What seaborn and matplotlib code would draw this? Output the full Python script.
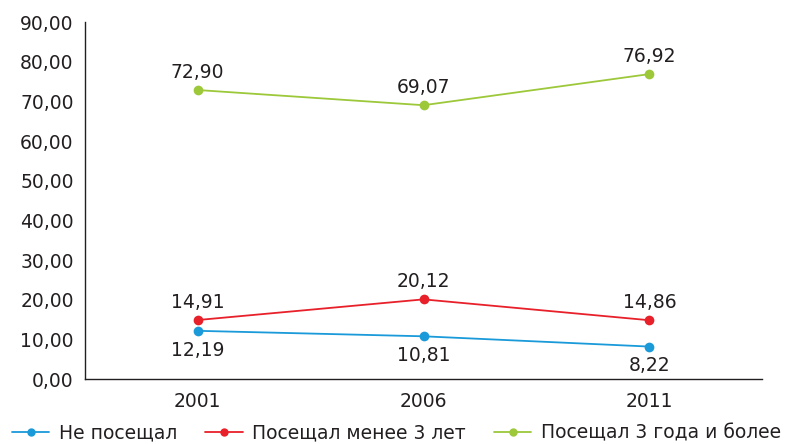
import pandas as pd
import matplotlib.pyplot as plt
import matplotlib.ticker as mticker
import seaborn as sns

# data
years = ['2001', '2006', '2011']
series_names = ['Не посещал', 'Посещал менее 3 лет', 'Посещал 3 года и более']
ne_poseshchal = [12.19, 10.81, 8.22]
menee_3 = [14.91, 20.12, 14.86]
bolee_3 = [72.90, 69.07, 76.92]
colors = ['#1a9ad9', '#e8202a', '#9cc83a']

rows = []
for name, vals in zip(series_names, [ne_poseshchal, menee_3, bolee_3]):
    for i, v in enumerate(vals):
        rows.append({'pos': i, 'year': years[i], 'value': v, 'series': name})
df = pd.DataFrame(rows)

sns.set_style('white')
plt.rcParams['font.family'] = ['DejaVu Sans']
FS = 13.5
TXT = '#231f20'

fig = plt.figure(figsize=(7.85, 4.44), dpi=100)
ax = fig.add_axes([0.108, 0.146, 0.863, 0.804])

sns.lineplot(data=df, x='pos', y='value', hue='series', hue_order=series_names,
             palette=colors, marker='o', markersize=7, markeredgewidth=0,
             linewidth=1.3, ax=ax, legend=False)

# value labels: blue below, others above
for name, vals in zip(series_names, [ne_poseshchal, menee_3, bolee_3]):
    for i, v in enumerate(vals):
        txt = f'{v:.2f}'.replace('.', ',')
        if name == 'Не посещал':
            ax.annotate(txt, (i, v), xytext=(0, -7), textcoords='offset points',
                        ha='center', va='top', fontsize=FS, color=TXT)
        else:
            ax.annotate(txt, (i, v), xytext=(0, 6), textcoords='offset points',
                        ha='center', va='bottom', fontsize=FS, color=TXT)

ax.set_xlim(-0.5, 2.5)
ax.set_ylim(0, 90)
ax.set_yticks(range(0, 91, 10))
ax.yaxis.set_major_formatter(mticker.FuncFormatter(lambda v, p: f'{v:.2f}'.replace('.', ',')))

# category boundaries as ticks, labels in the middle
ax.set_xticks([-0.5, 0.5, 1.5, 2.5])
ax.set_xticklabels([])
ax.set_xticks([0, 1, 2], minor=True)
ax.set_xticklabels(years, minor=True)
ax.tick_params(axis='x', which='major', direction='out', length=5, width=1, color=TXT)
ax.tick_params(axis='x', which='minor', length=0, pad=9, labelsize=FS, labelcolor=TXT)
ax.tick_params(axis='y', direction='out', length=6, width=1, color=TXT,
               labelsize=FS, labelcolor=TXT, pad=2)
ax.set_xlabel('')
ax.set_ylabel('')

for s in ['top', 'right']:
    ax.spines[s].set_visible(False)
for s in ['left', 'bottom']:
    ax.spines[s].set_color(TXT)
    ax.spines[s].set_linewidth(1)

handles = [plt.Line2D([], [], color=c, marker='o', markersize=6, markeredgewidth=0, linewidth=1.3)
           for c in colors]
fig.legend(handles, series_names, loc='lower center', bbox_to_anchor=(0.505, -0.035), ncol=3,
           frameon=False, fontsize=FS, handlelength=2.0, handletextpad=0.5, columnspacing=1.5,
           labelcolor=TXT)

fig.savefig('out.png', dpi=100)
